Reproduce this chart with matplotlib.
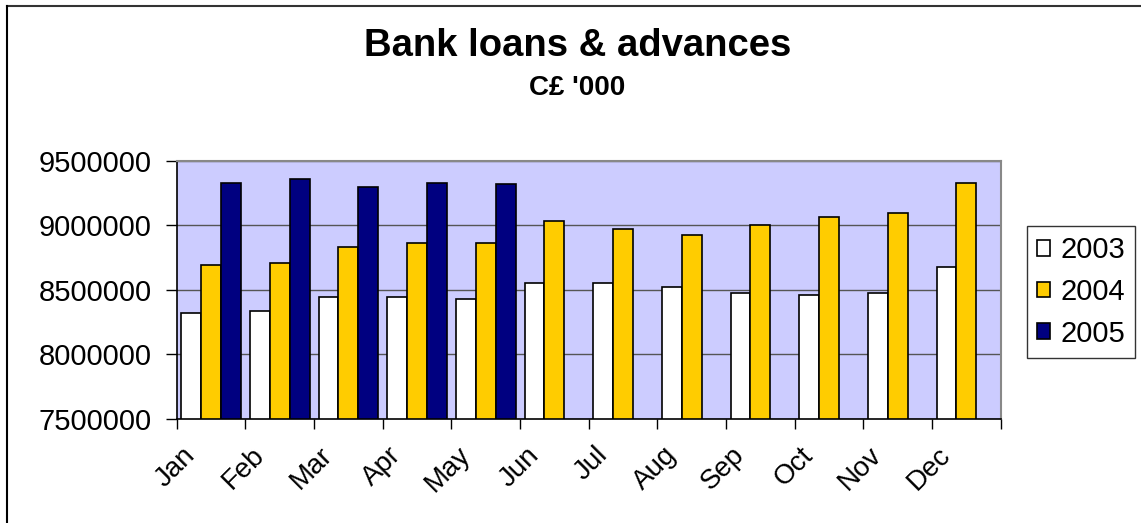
import numpy as np
import matplotlib.pyplot as plt
from matplotlib.lines import Line2D

# data
months = ["Jan", "Feb", "Mar", "Apr", "May", "Jun",
          "Jul", "Aug", "Sep", "Oct", "Nov", "Dec"]
v2003 = [8320000, 8336000, 8444000, 8444000, 8429000, 8553000,
         8553000, 8522000, 8473000, 8460000, 8473000, 8677000]
v2004 = [8690000, 8708000, 8833000, 8864000, 8864000, 9034000,
         8972000, 8923000, 9003000, 9065000, 9096000, 9329000]
v2005 = [9329000, 9358000, 9298000, 9329000, 9316000]
years = ["2003", "2004", "2005"]
colors = ["#FFFFFF", "#FFCC00", "#000080"]

plt.rcParams["font.family"] = ["Liberation Sans", "DejaVu Sans"]

fig = plt.figure(figsize=(11.41, 5.23), dpi=100)
ax = fig.add_axes([0.1549, 0.1998, 0.7222, 0.4929])
ax.set_facecolor("#CCCCFF")

w = 0.29
x = np.arange(12) + 0.5
series = [v2003, v2004, v2005]
for k, vals in enumerate(series):
    xs = x[:len(vals)] + (k - 1) * w
    ax.bar(xs, np.array(vals) - 7500000, bottom=7500000, width=w,
           color=colors[k], edgecolor="black", linewidth=1.2,
           label=years[k], zorder=3)

ax.set_xlim(0, 12)
ax.set_ylim(7500000, 9500000)
ax.set_yticks([7500000, 8000000, 8500000, 9000000, 9500000])
ax.set_yticklabels(["7500000", "8000000", "8500000", "9000000", "9500000"])
ax.yaxis.grid(True, color="#555555", linewidth=1.0, zorder=0)
ax.set_axisbelow(True)

# category boundary ticks, labels left of the category centre
ax.set_xticks(np.arange(13))
ax.set_xticklabels([])
ax.set_xticks(x - 0.42, minor=True)
ax.set_xticklabels(months, minor=True, rotation=45, ha="right",
                   rotation_mode="anchor", fontsize=20)
ax.tick_params(axis="x", which="major", direction="out", length=7, width=1)
ax.tick_params(axis="x", which="minor", length=0, pad=17)
ax.tick_params(axis="y", direction="out", length=8, width=1, labelsize=21, pad=10)

ax.spines["left"].set_color("black")
ax.spines["bottom"].set_color("black")
ax.spines["left"].set_linewidth(1.2)
ax.spines["bottom"].set_linewidth(1.2)
ax.spines["top"].set_color("#888888")
ax.spines["right"].set_color("#888888")
ax.spines["top"].set_linewidth(1.5)
ax.spines["right"].set_linewidth(1.5)

fig.text(0.506, 0.912, "Bank loans & advances", ha="center", va="center",
         fontsize=27.5, fontweight="bold")
fig.text(0.506, 0.832, "C£ '000", ha="center", va="center",
         fontsize=20, fontweight="bold")

leg = fig.legend(loc="upper left", bbox_to_anchor=(0.900, 0.568),
                 fontsize=21, frameon=True, fancybox=False, edgecolor="black",
                 handlelength=0.45, handleheight=0.45, handletextpad=0.35,
                 labelspacing=0.47, borderpad=0.35, borderaxespad=0)
leg.get_frame().set_linewidth(1.0)

# outer border (top and left only)
fig.add_artist(Line2D([0.0061, 1.0], [0.9876, 0.9876], color="#333333", linewidth=1.5,
                      transform=fig.transFigure))
fig.add_artist(Line2D([0.0061, 0.0061], [0.0, 0.9876], color="black", linewidth=1.5,
                      transform=fig.transFigure))

fig.savefig("out.png", dpi=100)
